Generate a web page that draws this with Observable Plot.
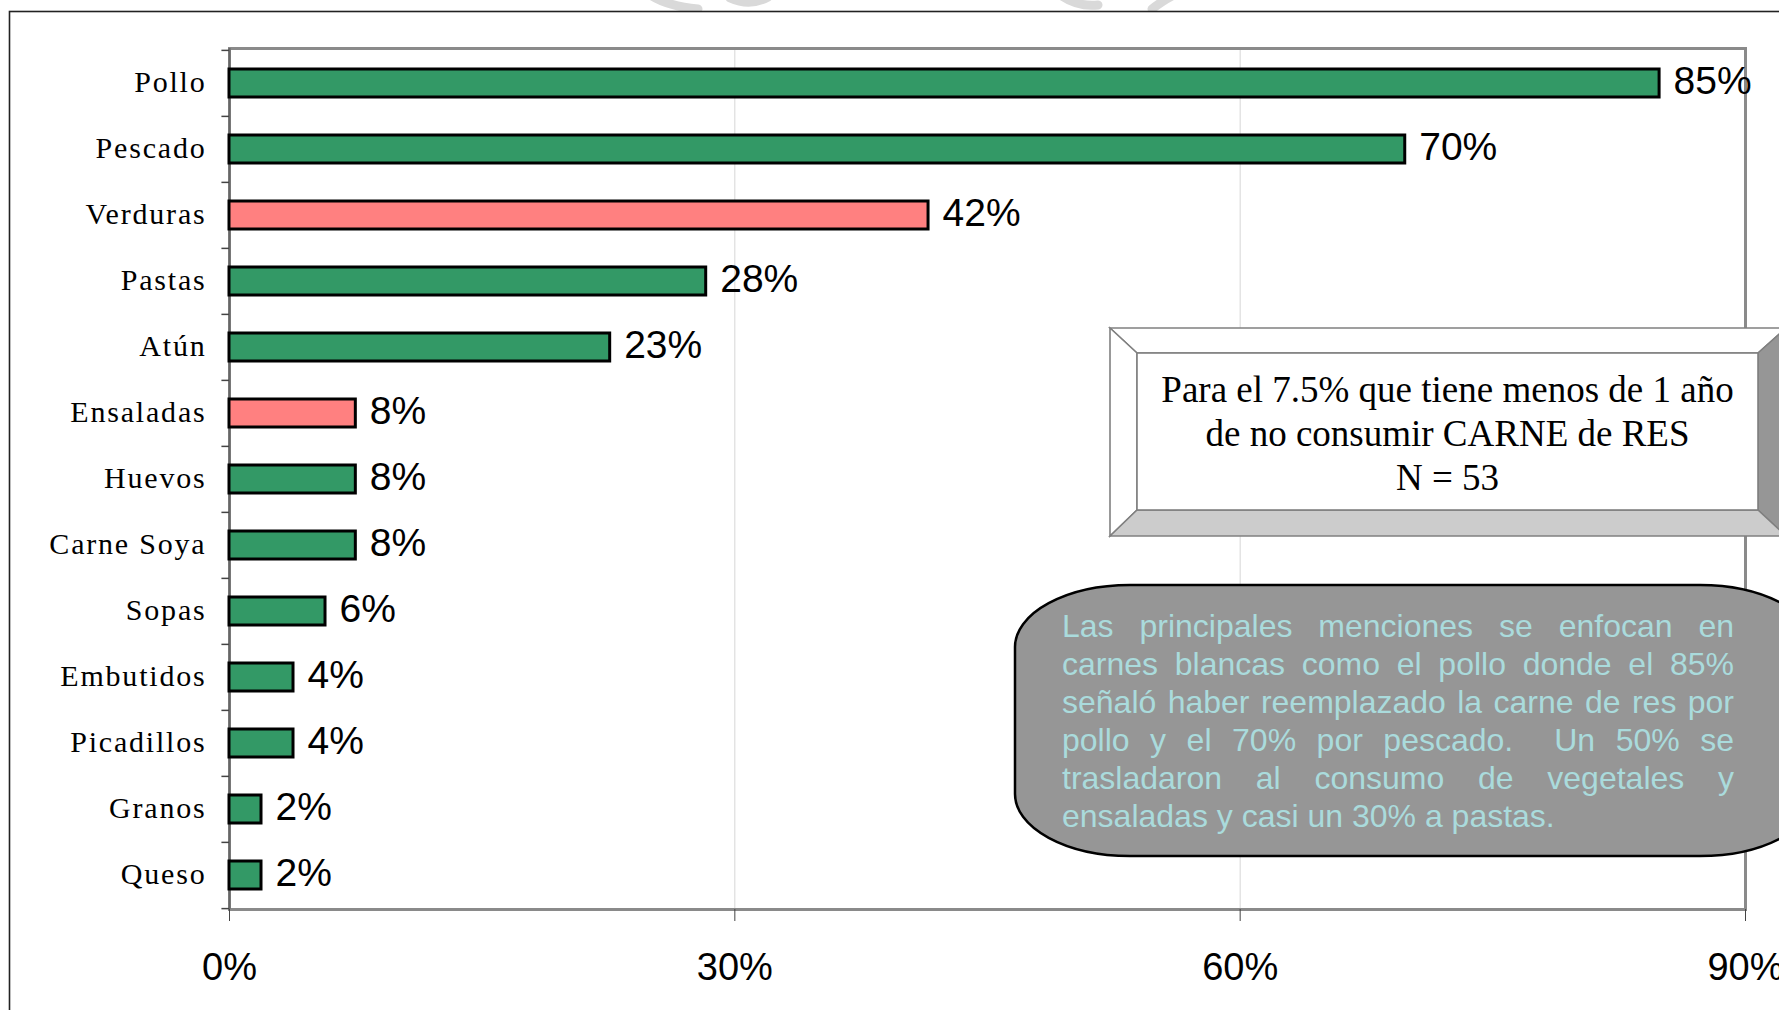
<!DOCTYPE html>
<html>
<head>
<meta charset="utf-8">
<script src="https://cdn.jsdelivr.net/npm/d3@7"></script>
<script src="https://cdn.jsdelivr.net/npm/@observablehq/plot@0.6"></script>
<style>
  html, body { margin: 0; padding: 0; background: #fff; }
  #page { position: relative; width: 1779px; height: 1010px; overflow: hidden; background: #fff; }
  #under, #over { position: absolute; left: 0; top: 0; }
  #chart { position: absolute; left: 0; top: 0; }
  #chart svg { background: transparent; overflow: visible; }
  #note1 { position: absolute; left: 1137px; top: 368px; width: 621px; text-align: center;
           font-family: "Liberation Serif", "DejaVu Serif", serif; font-size: 37px; line-height: 44px; color: #000; }
  #note2 { position: absolute; left: 1062px; top: 607px; width: 672px;
           font-family: "Liberation Sans", Arial, sans-serif; font-size: 32px; line-height: 38px; color: #aadbdc; }
  #note2 div { white-space: nowrap; text-align: justify; text-align-last: justify; }
  #note2 div.last { text-align: left; text-align-last: left; }
</style>
</head>
<body>
<div id="page">
  <svg id="under" width="1779" height="1010">
    <!-- faint watermark fragments at the very top -->
    <g fill="none" stroke="#d9d9d9" stroke-width="9" stroke-linecap="round">
      <path d="M 652 -4 Q 668 6 698 9"/>
      <path d="M 730 -2 Q 750 7 768 -3"/>
      <path d="M 1062 -4 Q 1078 7 1098 5"/>
      <path d="M 1152 9 Q 1165 -1 1176 -6"/>
    </g>
    <!-- outer chart frame -->
    <rect x="9.5" y="11.5" width="1820" height="1100" fill="#fff" stroke="#222" stroke-width="1.6"/>
  </svg>
  <div id="chart"></div>
  <svg id="over" width="1779" height="1010">
    <!-- bevelled box -->
    <g stroke="#808080" stroke-width="1.6" stroke-linejoin="miter">
      <polygon points="1110,328 1786,328 1758,353 1137,353" fill="#ffffff"/>
      <polygon points="1110,328 1137,353 1137,510 1110,536" fill="#ffffff"/>
      <polygon points="1786,328 1786,536 1758,510 1758,353" fill="#969696"/>
      <polygon points="1110,536 1137,510 1758,510 1786,536" fill="#cccccc"/>
      <rect x="1137" y="353" width="621" height="157" fill="#ffffff"/>
    </g>
    <!-- rounded grey note -->
    <rect x="1015" y="585" width="800" height="271" rx="115" ry="62" fill="#969696" stroke="#000" stroke-width="2.5"/>
  </svg>
  <div id="note1">Para el 7.5% que tiene menos de 1 año<br>de no consumir CARNE de RES<br>N = 53</div>
  <div id="note2">
    <div>Las principales menciones se enfocan en</div>
    <div>carnes blancas como el pollo donde el 85%</div>
    <div>señaló haber reemplazado la carne de res por</div>
    <div>pollo y el 70% por pescado.&nbsp; Un 50% se</div>
    <div>trasladaron al consumo de vegetales y</div>
    <div class="last">ensaladas y casi un 30% a pastas.</div>
  </div>
</div>
<script>
// ---- data ----
const categories = ["Pollo", "Pescado", "Verduras", "Pastas", "Atún", "Ensaladas", "Huevos",
                    "Carne Soya", "Sopas", "Embutidos", "Picadillos", "Granos", "Queso"];
const values = [84.9, 69.8, 41.5, 28.3, 22.6, 7.5, 7.5, 7.5, 5.7, 3.8, 3.8, 1.9, 1.9];
const valueLabels = ["85%", "70%", "42%", "28%", "23%", "8%", "8%", "8%", "6%", "4%", "4%", "2%", "2%"];
const highlighted = ["Verduras", "Ensaladas"];
const xTicks = [0, 30, 60, 90];
const xTickLabels = ["0%", "30%", "60%", "90%"];

const data = categories.map((c, i) => ({cat: c, value: values[i], label: valueLabels[i]}));

// ---- layout ----
const W = 1779, H = 1010;
const mL = 229, mR = 34, mT = 48, mB = 101;
const step = (H - mT - mB) / categories.length;
const green = "#339966", pink = "#ff8080";
const sans = "'Liberation Sans', Arial, sans-serif";
const serif = "'Liberation Serif', 'Times New Roman', serif";

const plot = Plot.plot({
  width: W, height: H,
  marginLeft: mL, marginRight: mR, marginTop: mT, marginBottom: mB,
  style: {background: "transparent", overflow: "visible"},
  x: {domain: [0, 90], axis: null, label: null},
  y: {domain: categories, padding: 0, axis: null, label: null},
  marks: [
    Plot.ruleX([30, 60], {stroke: "#d6d6d6", strokeWidth: 1}),
    Plot.frame({stroke: "#8a8a8a", strokeWidth: 3}),
    Plot.ruleX([0], {stroke: "#666", strokeWidth: 2}),
    // y tick marks at category boundaries
    Plot.ruleY(categories, {y: d => d, x1: 0, x2: -0.45, dy: -step / 2, stroke: "#444", strokeWidth: 1.5}),
    Plot.ruleY(categories.slice(-1), {y: d => d, x1: 0, x2: -0.45, dy: step / 2, stroke: "#444", strokeWidth: 1.5}),
    Plot.barX(data, {
      x: "value", y: "cat",
      fill: d => highlighted.includes(d.cat) ? pink : green,
      stroke: "#000", strokeWidth: 3,
      insetTop: 19, insetBottom: 19
    }),
    Plot.text(data, {
      x: "value", y: "cat", text: "label", dx: 14, dy: -2,
      textAnchor: "start", fontSize: 39, fontFamily: sans, fill: "#000"
    }),
    Plot.text(categories, {
      y: d => d, frameAnchor: "left", dx: -23, dy: -1.5, textAnchor: "end",
      fontSize: 30, fontFamily: serif, fill: "#000"
    }),
    Plot.axisX(xTicks, {
      tickSize: 12, tickPadding: 32, tickFormat: d => xTickLabels[xTicks.indexOf(d)],
      fontSize: 38, fontFamily: sans, stroke: "#444", color: "#000", label: null
    })
  ]
});
document.getElementById("chart").appendChild(plot);

// wide letter spacing of the category labels, as in the reference
d3.select(plot).selectAll("text")
  .filter(function () { return categories.includes(this.textContent); })
  .attr("letter-spacing", "1.8px")
  .style("letter-spacing", "1.8px");
</script>
</body>
</html>
